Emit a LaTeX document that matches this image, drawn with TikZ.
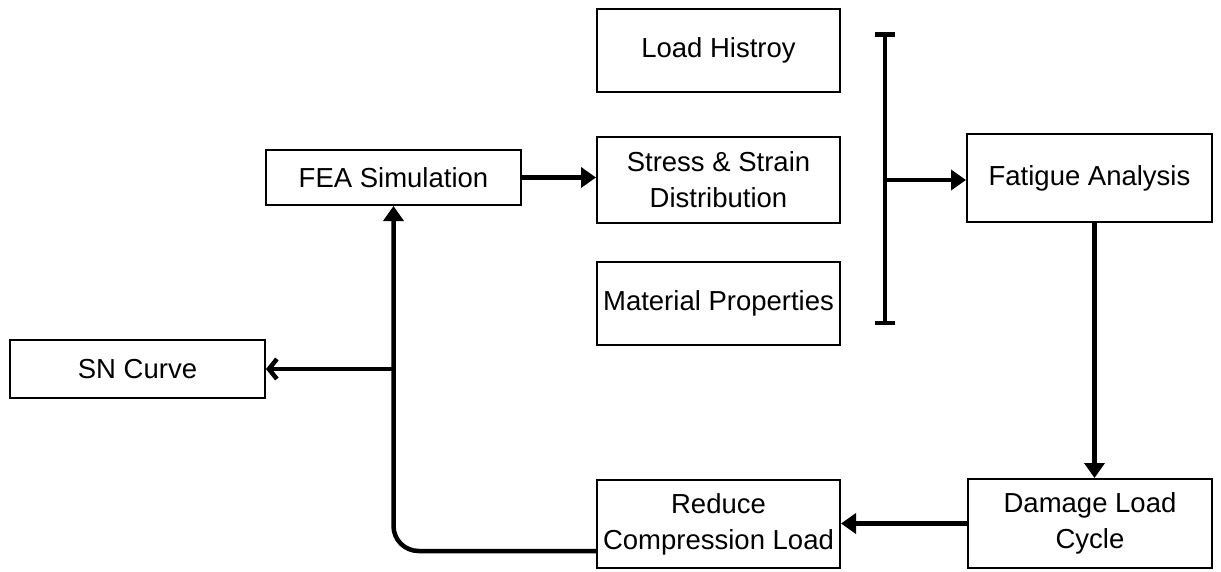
\documentclass[tikz,border=0pt]{standalone}
\usepackage{fontspec}
\setmainfont{Liberation Sans}
\usetikzlibrary{arrows.meta}

\tikzset{
  box/.style={draw, line width=2pt, minimum width=243pt, minimum height=83pt,
    align=center, font=\fontsize{27.5}{36}\selectfont, inner sep=2pt},
  arr/.style={line width=4.5pt, -{Triangle[length=15pt,width=20pt]}},
  openarr/.style={line width=4.5pt, -{Straight Barb[length=8pt,width=20pt,line width=4.5pt]}}
}

\begin{document}
\begin{tikzpicture}[x=1pt,y=-1pt]
\useasboundingbox (0,0) rectangle (1221,571);
\def\colm{718.5}
\def\barx{885}
  \node[box] (load) at (\colm,50.5) {Load Histroy};
  \node[box, minimum height=86pt] (stress) at (\colm,180) {Stress \& Strain\\Distribution};
  \node[box] (mat) at (\colm,303.5) {Material Properties};
  \node[box, minimum width=255pt, minimum height=55pt] (fea) at (393.5,177.5) {FEA Simulation};
  \node[box, minimum width=245pt, minimum height=88pt] (fatigue) at (1089.5,178) {Fatigue Analysis};
  \node[box, minimum width=255pt, minimum height=58pt] (sn) at (137.5,369) {SN Curve};
  \node[box, minimum width=244pt, minimum height=89pt] (damage) at (1090,523.5) {Damage Load\\Cycle};
  \node[box, minimum height=88pt] (reduce) at (\colm,524) {Reduce\\Compression Load};

  \draw[line width=4.5pt, {Bar[width=20pt]}-{Bar[width=20pt]}] (\barx,32) -- (\barx,325);
  \coordinate (bar) at (\barx,180);
  \draw[arr] (bar) -- (bar -| fatigue.west);
  \draw[arr] (fea.east) -- (fea.east -| stress.west);
  \draw[arr] ([xshift=5pt]fatigue.south) -- ([xshift=5pt]fatigue.south |- damage.north);
  \draw[arr] (damage.west) -- (damage.west -| reduce.east);
  \draw[arr, rounded corners=25pt] ([yshift=-27pt]reduce.west) -| (fea.south);
  \draw[openarr] (fea.south |- sn.east) -- (sn.east);
\end{tikzpicture}
\end{document}
